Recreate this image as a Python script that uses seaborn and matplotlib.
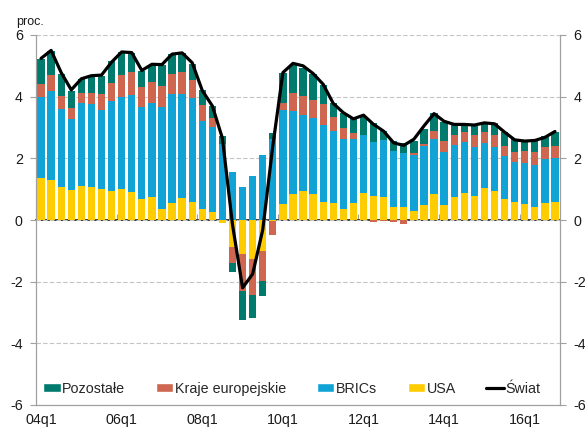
import numpy as np
import pandas as pd
import matplotlib
matplotlib.use("Agg")
import matplotlib.pyplot as plt
import seaborn as sns
from matplotlib.patches import Patch
from matplotlib.lines import Line2D

sns.set_theme(style="white")
plt.rcParams['font.family'] = ['Liberation Sans', 'DejaVu Sans']
plt.rcParams['axes.unicode_minus'] = False

# ---- data (quarterly, 04q1 .. 16q4) ----
usa = [1.36, 1.30, 1.06, 0.96, 1.11, 1.06, 1.02, 0.94, 0.99, 0.90, 0.68, 0.75,
       0.37, 0.54, 0.71, 0.59, 0.35, 0.25, -0.10, -0.87, -1.09, -1.27, -1.01, -0.03,
       0.51, 0.83, 0.94, 0.84, 0.59, 0.54, 0.37, 0.54, 0.86, 0.78, 0.74, 0.41,
       0.41, 0.30, 0.50, 0.84, 0.49, 0.76, 0.89, 0.78, 1.03, 0.94, 0.69, 0.60,
       0.51, 0.41, 0.54, 0.60]
brics = [2.62, 2.88, 2.54, 2.32, 2.68, 2.69, 2.56, 2.91, 2.99, 3.15, 2.97, 3.03,
         3.28, 3.56, 3.39, 3.38, 2.86, 2.78, 2.46, 1.55, 1.06, 1.43, 2.11, 2.63,
         3.06, 2.72, 2.47, 2.46, 2.49, 2.36, 2.25, 2.08, 1.89, 1.74, 1.85, 1.83,
         1.75, 1.82, 1.90, 1.80, 1.73, 1.68, 1.65, 1.58, 1.46, 1.42, 1.37, 1.29,
         1.34, 1.39, 1.43, 1.42]
europe = [0.43, 0.52, 0.42, 0.35, 0.32, 0.38, 0.50, 0.58, 0.71, 0.75, 0.66, 0.71,
          0.71, 0.63, 0.69, 0.56, 0.51, 0.28, 0.00, -0.54, -1.22, -1.17, -0.97, -0.47,
          0.24, 0.58, 0.61, 0.59, 0.68, 0.44, 0.35, 0.20, 0.00, -0.05, -0.03, -0.08,
          -0.12, 0.06, 0.08, 0.25, 0.34, 0.32, 0.31, 0.40, 0.38, 0.40, 0.35, 0.33,
          0.39, 0.39, 0.39, 0.39]
other = [0.81, 0.79, 0.70, 0.56, 0.45, 0.52, 0.60, 0.72, 0.77, 0.63, 0.53, 0.54,
         0.68, 0.64, 0.62, 0.53, 0.50, 0.39, 0.26, -0.27, -0.92, -0.73, -0.47, 0.18,
         0.95, 0.90, 0.90, 0.85, 0.62, 0.44, 0.49, 0.48, 0.62, 0.62, 0.31, 0.32,
         0.33, 0.38, 0.47, 0.57, 0.63, 0.32, 0.21, 0.30, 0.29, 0.38, 0.44, 0.40,
         0.32, 0.37, 0.35, 0.46]
world = [5.24, 5.50, 4.78, 4.22, 4.58, 4.68, 4.70, 5.12, 5.45, 5.43, 4.85, 5.05,
         5.04, 5.38, 5.42, 5.10, 4.20, 3.70, 2.65, -0.15, -2.20, -1.75, -0.32, 2.40,
         4.78, 5.08, 5.00, 4.75, 4.40, 3.78, 3.48, 3.28, 3.40, 3.10, 2.88, 2.50,
         2.42, 2.62, 3.05, 3.45, 3.20, 3.10, 3.10, 3.08, 3.15, 3.12, 2.85, 2.60,
         2.56, 2.58, 2.68, 2.87]
tick_labels = ['04q1', '06q1', '08q1', '10q1', '12q1', '14q1', '16q1']
series_names = ['USA', 'BRICs', 'Kraje europejskie', 'Pozostałe']
colors = {'USA': '#FFCC00', 'BRICs': '#12A3D6',
          'Kraje europejskie': '#CF6650', 'Pozostałe': '#007A6C'}
world_name = 'Świat'

n = len(usa)
xpos = np.arange(n)
df = pd.DataFrame({'x': xpos, 'USA': usa, 'BRICs': brics,
                   'Kraje europejskie': europe, 'Pozostałe': other})

# cumulative stacks (positive and negative parts stacked separately)
pos = df[series_names].clip(lower=0).cumsum(axis=1)
neg = df[series_names].clip(upper=0).cumsum(axis=1)

fig = plt.figure(figsize=(5.85, 4.28), dpi=100)
ax = fig.add_axes([36/585, 23/428, 524/585, 370/428])

for name in reversed(series_names):
    for stack in (pos, neg):
        sns.barplot(x=df['x'], y=stack[name], native_scale=True, color=colors[name],
                    saturation=1, width=0.72, errorbar=None, linewidth=0,
                    ax=ax, zorder=2)

sns.lineplot(x=xpos, y=world, color='black', linewidth=2.3, ax=ax, zorder=4)

ax.set_xlim(-0.5, n - 0.5)
ax.set_ylim(-6, 6)
ax.set_xlabel('')
ax.set_ylabel('')

# y axis both sides
yt = np.arange(-6, 7, 2)
ax.set_yticks(yt)
ax.set_yticklabels([str(v) for v in yt])
ax.tick_params(axis='y', left=True, right=True, labelleft=True, labelright=True,
               length=4, width=0.8, color='#A0A0A0', labelsize=10.3,
               labelcolor='#1a1a1a', pad=5.5)
ax.yaxis.grid(True, linestyle=(0, (4, 2)), color='#C4C4C4', linewidth=0.8, zorder=0)
ax.set_axisbelow(True)

# x labels at bottom
ax.set_xticks(xpos[::8])
ax.set_xticklabels(tick_labels)
ax.tick_params(axis='x', length=0, labelsize=10.3, labelcolor='#1a1a1a', pad=6)

for s in ['left', 'right', 'bottom']:
    ax.spines[s].set_color('#A0A0A0')
    ax.spines[s].set_linewidth(0.9)
ax.spines['top'].set_visible(False)

# zero axis with category tick marks
sec = ax.secondary_xaxis(0.5)
sec.set_xticks(np.arange(-0.5, n, 8))
sec.set_xticklabels([])
sec.tick_params(axis='x', direction='out', length=4, width=0.8, color='#A0A0A0')
sec.spines['bottom'].set_color('#A0A0A0')
sec.spines['bottom'].set_linewidth(0.9)

# legend
handles = [Patch(facecolor=colors['Pozostałe'], label='Pozostałe'),
           Patch(facecolor=colors['Kraje europejskie'], label='Kraje europejskie'),
           Patch(facecolor=colors['BRICs'], label='BRICs'),
           Patch(facecolor=colors['USA'], label='USA'),
           Line2D([0], [0], color='black', linewidth=2.3, label=world_name)]
ax.legend(handles=handles, ncol=5, loc='center left', bbox_to_anchor=(0.0, 0.044),
          frameon=False, fontsize=10.3, handlelength=1.22, handleheight=0.6,
          handletextpad=0.1, columnspacing=2.15, borderaxespad=0.2, borderpad=0.3)

fig.text(16/585, 1 - 25/428, 'proc.', fontsize=9, color='#1a1a1a', va='baseline')

fig.savefig('out.png', dpi=100)
